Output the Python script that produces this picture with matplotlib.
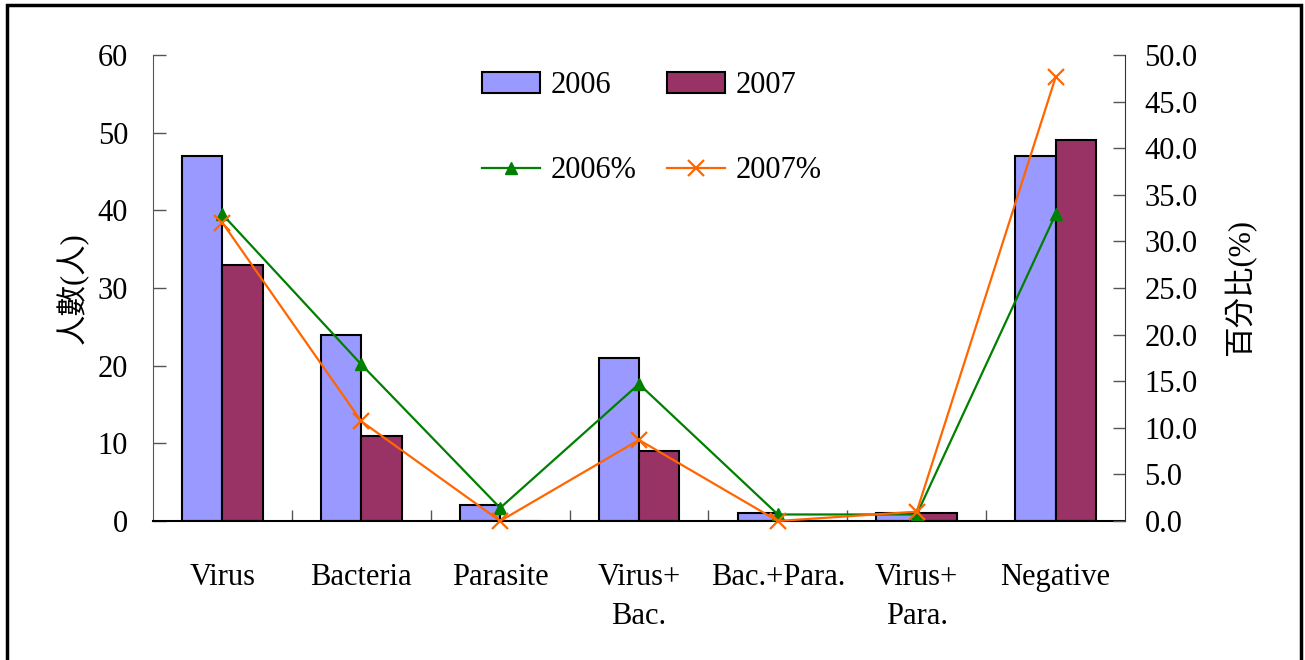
import numpy as np
import matplotlib
matplotlib.use('agg')
import matplotlib.pyplot as plt
from matplotlib.patches import Rectangle

plt.rcParams['font.family'] = ['Liberation Serif', 'Noto Sans CJK TC', 'DejaVu Sans']

categories = ['Virus', 'Bacteria', 'Parasite', 'Virus+\nBac.', 'Bac.+Para.', 'Virus+\nPara.', 'Negative']
n2006 = [47, 24, 2, 21, 1, 1, 47]
n2007 = [33, 11, 0, 9, 0, 1, 49]
pct2006 = [32.9, 16.8, 1.4, 14.7, 0.7, 0.7, 32.9]
pct2007 = [32.0, 10.7, 0.0, 8.7, 0.0, 1.0, 47.6]

fs = 22

fig = plt.figure(figsize=(13.05, 6.6), dpi=100)
ax = fig.add_axes([153/1305, 1-521/660, (1125-153)/1305, (521-55)/660])
ax2 = ax.twinx()

x = np.arange(len(categories))
w = 0.29
b1 = ax.bar(x - w/2, n2006, w, color='#9999FF', edgecolor='black', linewidth=1.5, label='2006')
b2 = ax.bar(x + w/2, n2007, w, color='#993366', edgecolor='black', linewidth=1.5, label='2007')
l1, = ax2.plot(x, pct2006, color='#008000', marker='^', markersize=9, linewidth=1.6, label='2006%', clip_on=False)
l2, = ax2.plot(x, pct2007, color='#FF6600', marker='x', markersize=11, markeredgewidth=1.6, linewidth=1.6, label='2007%', clip_on=False)

ax.set_xlim(-0.5, len(categories) - 0.5)
ax.set_ylim(0, 60)
ax.set_yticks(range(0, 61, 10))
ax2.set_ylim(0, 50)
ax2.set_yticks(np.arange(0, 50.1, 5))
ax2.set_yticklabels(['%.1f' % v for v in np.arange(0, 50.1, 5)])

ax.set_xticks(x)
ax.set_xticklabels(categories, fontsize=fs, linespacing=1.45, va='top')
ax.set_xticks(np.arange(0.5, len(categories) - 1, 1), minor=True)
ax.tick_params(axis='x', which='major', length=0, pad=30)
ax.tick_params(axis='x', which='minor', direction='in', length=8, width=1, color='#555555')
ax.tick_params(axis='y', direction='in', length=9, width=1, color='#555555', labelsize=fs, pad=18)
ax2.tick_params(axis='y', direction='in', length=9, width=1, color='#555555', labelsize=fs, pad=14)

for a in (ax, ax2):
    a.spines['top'].set_visible(False)
ax.spines['right'].set_visible(False)
ax.spines['left'].set_color('#555555')
ax2.spines['left'].set_visible(False)
ax2.spines['bottom'].set_visible(False)
ax2.spines['right'].set_color('#333333')
ax.spines['bottom'].set_linewidth(1.5)

ax.set_ylabel('人數(人)', fontsize=fs, labelpad=6)
ax2.set_ylabel('百分比(%)', fontsize=fs, labelpad=19)

ax2.legend([b1, l1, b2, l2], ['2006', '2006%', '2007', '2007%'], ncol=2, frameon=False,
           fontsize=fs, loc='upper left', bbox_to_anchor=(0.31, 1.024),
           labelspacing=1.83, columnspacing=1.0, handlelength=1.9, handletextpad=0.35)

fig.patches.append(Rectangle((7/1305, -0.02), (1301-7)/1305, 1.02 - 5/660,
                             transform=fig.transFigure, fill=False, edgecolor='black', linewidth=2.5))

fig.savefig('out.png', dpi=100)
